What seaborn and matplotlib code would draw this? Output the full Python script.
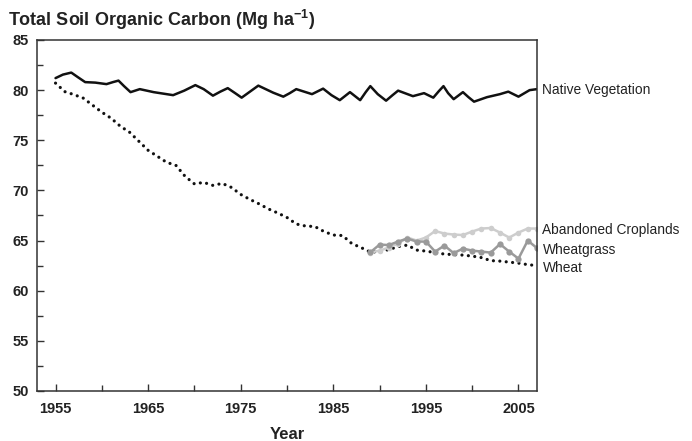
import numpy as np
import pandas as pd
import matplotlib
matplotlib.use("Agg")
import matplotlib.pyplot as plt
import seaborn as sns
from matplotlib.ticker import MultipleLocator, FixedLocator
from matplotlib.transforms import blended_transform_factory

# Native vegetation (read at the crests and troughs of the curve)
native_anos = [1955.0, 1955.8, 1956.7, 1957.4, 1958.2, 1959.3, 1960.5, 1961.2, 1961.8, 1962.4,
               1963.1, 1964.1, 1965.6, 1967.7, 1968.9, 1970.1, 1971.0, 1972.0, 1972.8, 1973.6,
               1974.4, 1975.1, 1976.0, 1976.9, 1978.5, 1979.6, 1980.3, 1981.0, 1982.7, 1983.9,
               1984.8, 1985.7, 1986.8, 1987.9, 1988.5, 1989.0, 1989.8, 1990.7, 1991.4, 1992.0,
               1993.6, 1994.8, 1995.8, 1996.4, 1996.9, 1997.4, 1998.0, 1999.0, 1999.6, 2000.2,
               2001.6, 2003.0, 2003.9, 2005.0, 2006.2, 2007.0]
native_c = [81.2, 81.55, 81.75, 81.3, 80.8, 80.75, 80.6, 80.8, 80.95, 80.4,
            79.8, 80.1, 79.8, 79.5, 79.95, 80.5, 80.1, 79.45, 79.85, 80.2,
            79.7, 79.25, 79.85, 80.45, 79.75, 79.35, 79.7, 80.1, 79.6, 80.15,
            79.5, 79.0, 79.8, 79.0, 79.8, 80.4, 79.6, 78.95, 79.5, 79.95,
            79.4, 79.7, 79.25, 79.9, 80.4, 79.7, 79.1, 79.8, 79.3, 78.85,
            79.3, 79.6, 79.85, 79.35, 80.0, 80.1]

# Trigo (1955-2007)
trigo_anos = list(range(1955, 2008))
trigo_c = [80.7, 79.85, 79.55, 79.2, 78.5, 77.8, 77.2, 76.4, 75.8, 74.9,
           74.0, 73.4, 72.8, 72.5, 71.4, 70.65, 70.8, 70.5, 70.7, 70.3,
           69.6, 69.1, 68.65, 68.15, 67.75, 67.3, 66.65, 66.45, 66.4, 65.9,
           65.55, 65.5, 64.7, 64.3, 63.85, 63.9, 64.1, 64.4, 64.55, 64.05,
           63.95, 63.8, 63.65, 63.6, 63.55, 63.45, 63.3, 63.0, 62.95, 62.85,
           62.75, 62.6, 62.5]

# Abandonadas e wheatgrass (1989-2007)
anos_89 = list(range(1989, 2008))
abandonadas_c = [63.8, 64.0, 64.3, 64.7, 65.3, 65.0, 65.3, 65.95, 65.7, 65.6,
                 65.55, 65.9, 66.2, 66.25, 65.8, 65.3, 65.8, 66.2, 66.2]
wheatgrass_c = [63.83, 64.6, 64.55, 64.9, 65.2, 64.9, 64.9, 63.9, 64.5, 63.75,
                64.2, 64.0, 63.9, 63.8, 64.65, 63.9, 63.2, 65.0, 64.25]

rotulos = ["Native Vegetation", "Abandoned Croplands", "Wheatgrass", "Wheat"]
anos_ticks = [1955, 1965, 1975, 1985, 1995, 2005]

native = pd.DataFrame({"ano": native_anos, "c": native_c})
trigo = pd.DataFrame({"ano": trigo_anos, "c": trigo_c})
aband = pd.DataFrame({"ano": anos_89, "c": abandonadas_c})
wgrass = pd.DataFrame({"ano": anos_89, "c": wheatgrass_c})

sns.set_style("ticks")
plt.rcParams["font.family"] = ["Liberation Sans", "DejaVu Sans"]
plt.rcParams["mathtext.fontset"] = "custom"
plt.rcParams["mathtext.bf"] = "Liberation Sans:bold"
plt.rcParams["mathtext.rm"] = "Liberation Sans"

fig = plt.figure(figsize=(6.92, 4.41), dpi=100)
ax = fig.add_axes([0.0535, 0.1134, 0.7225, 0.7959])

sns.lineplot(data=native, x="ano", y="c", ax=ax, color="#111111", linewidth=1.8,
             sort=False, solid_joinstyle="round")
sns.lineplot(data=trigo, x="ano", y="c", ax=ax, color="#111111", linewidth=2.3,
             linestyle=(0, (0.01, 2.0)), dash_capstyle="round")
sns.lineplot(data=aband, x="ano", y="c", ax=ax, color="#cdcdcd", linewidth=1.8,
             marker="o", markersize=4, markeredgewidth=0)
sns.lineplot(data=wgrass, x="ano", y="c", ax=ax, color="#9a9a9a", linewidth=1.8,
             marker="o", markersize=4.5, markeredgewidth=0)

ax.set_xlim(1953, 2007)
ax.set_ylim(50, 85)
ax.xaxis.set_major_locator(FixedLocator(anos_ticks))
ax.xaxis.set_minor_locator(FixedLocator([a + 5 for a in anos_ticks[:-1]]))
ax.yaxis.set_major_locator(MultipleLocator(5))
ax.yaxis.set_minor_locator(MultipleLocator(2.5))
ax.tick_params(which="both", direction="in", color="#333333", width=1.0,
               labelsize=10.5, labelcolor="#222222")
ax.tick_params(which="major", length=5)
ax.tick_params(which="minor", length=4)
ax.tick_params(axis="x", pad=8)
ax.tick_params(axis="y", pad=6)
for lab in ax.get_xticklabels() + ax.get_yticklabels():
    lab.set_fontweight("bold")
for s in ax.spines.values():
    s.set_color("#333333")
    s.set_linewidth(1.1)

ax.set_xlabel("Year", fontsize=12, fontweight="bold", color="#222222", labelpad=8)
ax.set_ylabel("")

fig.text(0.012, 0.955, r"Total Soil Organic Carbon (Mg ha$^{\mathbf{-1}}$)",
         fontsize=13, fontweight="bold", color="#222222", va="center", ha="left")

# Rótulos das séries à direita
trans = blended_transform_factory(ax.transAxes, ax.transData)
pos_y = [80.0, 66.1, 64.05, 62.3]
for rot, yv in zip(rotulos, pos_y):
    ax.text(1.011, yv, rot, transform=trans, fontsize=9.9, color="#222222",
            va="center", ha="left", clip_on=False)

fig.savefig("out.png", dpi=100)
